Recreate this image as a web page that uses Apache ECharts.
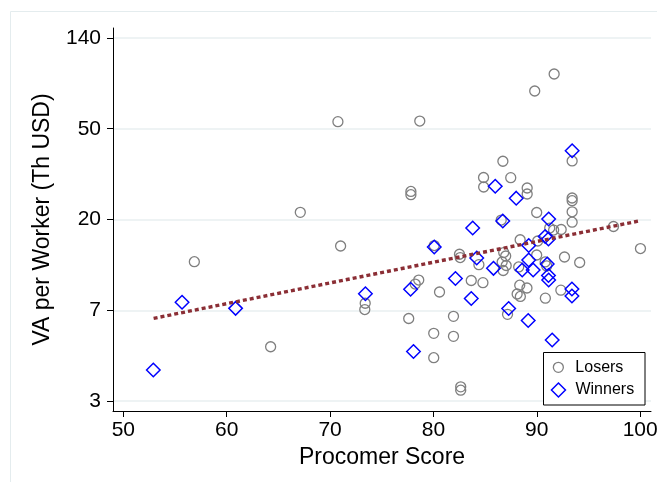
<!DOCTYPE html>
<html>
<head>
<meta charset="utf-8">
<script src="https://cdn.jsdelivr.net/npm/echarts@6/dist/echarts.min.js"></script>
<style>
  html, body { margin: 0; padding: 0; background: #fff; }
  #chart { width: 657px; height: 482px; }
</style>
</head>
<body>
<div id="chart"></div>
<script>
// y is plotted on a natural-log scale: tick k stands for e^k, labelled as in the source
const yTickValues = [1, 2, 3, 4, 5];
const yTickLabels = ['3', '7', '20', '50', '140'];
const xTickValues = [50, 60, 70, 80, 90, 100];

// Losers: Procomer score / ln(VA per worker)
const losersScore = [56.87, 64.25, 67.12, 70.76, 71.02, 73.40, 73.36, 78.68, 89.80, 91.68,
  93.42, 86.72, 84.85, 84.86, 87.48, 77.82, 77.82, 89.07, 89.07, 93.42,
  93.42, 93.42, 93.42, 89.99, 86.56, 97.42, 91.25, 91.63, 92.36, 100.03,
  88.39, 90.09, 80.08, 82.52, 82.59, 84.40, 86.80, 86.99, 86.65, 87.04,
  86.75, 89.99, 88.25, 90.81, 90.96, 92.68, 94.15, 78.58, 78.24, 83.66,
  84.79, 80.59, 88.35, 89.05, 88.10, 88.41, 92.33, 90.83, 87.17, 77.61,
  81.94, 80.03, 81.94, 80.03, 82.64, 82.64];
const losersLnVA = [2.535, 1.598, 3.079, 4.078, 2.708, 2.077, 2.008, 4.085, 4.416, 4.603,
  3.645, 3.642, 3.463, 3.358, 3.461, 3.309, 3.273, 3.347, 3.281, 3.237,
  3.207, 3.085, 2.970, 3.077, 2.994, 2.923, 2.906, 2.884, 2.890, 2.680,
  2.777, 2.763, 2.713, 2.617, 2.581, 2.502, 2.636, 2.598, 2.532, 2.493,
  2.438, 2.609, 2.477, 2.532, 2.488, 2.587, 2.526, 2.333, 2.289, 2.328,
  2.304, 2.201, 2.276, 2.245, 2.179, 2.152, 2.221, 2.133, 1.955, 1.909,
  1.933, 1.746, 1.713, 1.477, 1.156, 1.119];

// Winners
const winnersScore = [52.90, 55.68, 60.86, 73.42, 77.79, 78.07, 80.08, 82.13, 83.66, 83.80,
  84.19, 85.81, 85.98, 86.71, 87.28, 88.01, 89.17, 89.22, 89.22, 88.59,
  89.65, 90.81, 91.13, 91.15, 91.01, 91.13, 91.15, 91.49, 93.40, 93.40, 93.42];
const winnersLnVA = [1.342, 2.088, 2.021, 2.182, 2.231, 1.545, 2.697, 2.350, 2.129, 2.906,
  2.576, 2.462, 3.366, 2.983, 2.019, 3.235, 1.887, 2.713, 2.554, 2.444,
  2.444, 2.813, 2.785, 3.006, 2.510, 2.383, 2.333, 1.672, 2.234, 2.157, 3.758];

// fitted line, ends
const fitScore = [52.93, 100.03];
const fitLnVA = [1.911, 2.987];

function zip(a, b) {
  let out = [];
  for (let i = 0; i < a.length; i++) out.push([a[i], b[i]]);
  return out;
}

const font = 'Liberation Sans, Arial, sans-serif';
const chart = echarts.init(document.getElementById('chart'));

function legendText(gap) {
  return {
    fontSize: 16, lineHeight: 16, color: '#000', fontFamily: font,
    rich: { t: { fontSize: 16, lineHeight: 16, color: '#000', fontFamily: font, padding: [0, 0, 0, gap] } }
  };
}

chart.setOption({
  animation: false,
  backgroundColor: '#fff',
  textStyle: { fontFamily: font },
  grid: { left: 113, right: 6, top: 28, bottom: 71, containLabel: false, outerBoundsMode: 'none' },
  graphic: [
    { type: 'rect', z: 0, silent: true,
      shape: { x: 10.5, y: 11.5, width: 700, height: 520 },
      style: { fill: 'none', stroke: '#e4ecee', lineWidth: 1 } },
    { type: 'rect', z: 3, silent: true,
      shape: { x: 543.5, y: 352.5, width: 101.5, height: 52.5 },
      style: { fill: '#fff', stroke: '#000', lineWidth: 1 } }
  ],
  legend: [
    { data: ['Losers'], left: 552.7, top: 359.3, padding: 0,
      itemWidth: 10, itemHeight: 10,
      itemStyle: { borderWidth: 1.3 },
      formatter: '{t|{name}}',
      textStyle: legendText(7) },
    { data: ['Winners'], left: 550.7, top: 382, padding: 0,
      itemWidth: 14, itemHeight: 14,
      itemStyle: { borderWidth: 1.5 },
      formatter: '{t|{name}}',
      textStyle: legendText(5) }
  ],
  xAxis: {
    type: 'value', min: 49.0, max: 101.05,
    name: 'Procomer Score', nameLocation: 'middle', nameGap: 32,
    nameTextStyle: { fontSize: 23, color: '#000', fontFamily: font },
    axisLine: { show: true, onZero: false, lineStyle: { color: '#000', width: 1 } },
    axisTick: { show: true, customValues: xTickValues, length: 6, lineStyle: { color: '#000' } },
    axisLabel: { customValues: xTickValues, fontSize: 21, color: '#000', margin: 9, fontFamily: font },
    splitLine: { show: false }
  },
  yAxis: {
    type: 'value', min: 0.89, max: 5.11,
    name: 'VA per Worker (Th USD)', nameLocation: 'middle', nameGap: 59,
    nameTextStyle: { fontSize: 23, color: '#000', fontFamily: font },
    axisLine: { show: true, onZero: false, lineStyle: { color: '#000', width: 1 } },
    axisTick: { show: true, customValues: yTickValues, length: 6, lineStyle: { color: '#000' } },
    axisLabel: {
      customValues: yTickValues, fontSize: 21, color: '#000', margin: 12, fontFamily: font,
      formatter: function (v) {
        let i = yTickValues.indexOf(Math.round(v));
        return i >= 0 ? yTickLabels[i] : '';
      }
    },
    splitLine: { show: true, lineStyle: { color: '#e8eff1', width: 1.5 } }
  },
  series: [
    {
      name: 'Losers', type: 'scatter', symbol: 'circle', symbolSize: 10,
      data: zip(losersScore, losersLnVA),
      itemStyle: { color: 'rgba(0,0,0,0)', borderColor: '#7f7f7f', borderWidth: 1.3, opacity: 1 }
    },
    {
      name: 'Winners', type: 'scatter', symbol: 'diamond', symbolSize: 13.5,
      data: zip(winnersScore, winnersLnVA),
      itemStyle: { color: 'rgba(0,0,0,0)', borderColor: '#0000ff', borderWidth: 1.5, opacity: 1 }
    },
    {
      name: 'Fit', type: 'line', symbol: 'none', silent: true,
      data: zip(fitScore, fitLnVA),
      lineStyle: { color: '#8b2e35', width: 3.4, type: [4, 3], cap: 'butt' }
    }
  ]
});
</script>
</body>
</html>
